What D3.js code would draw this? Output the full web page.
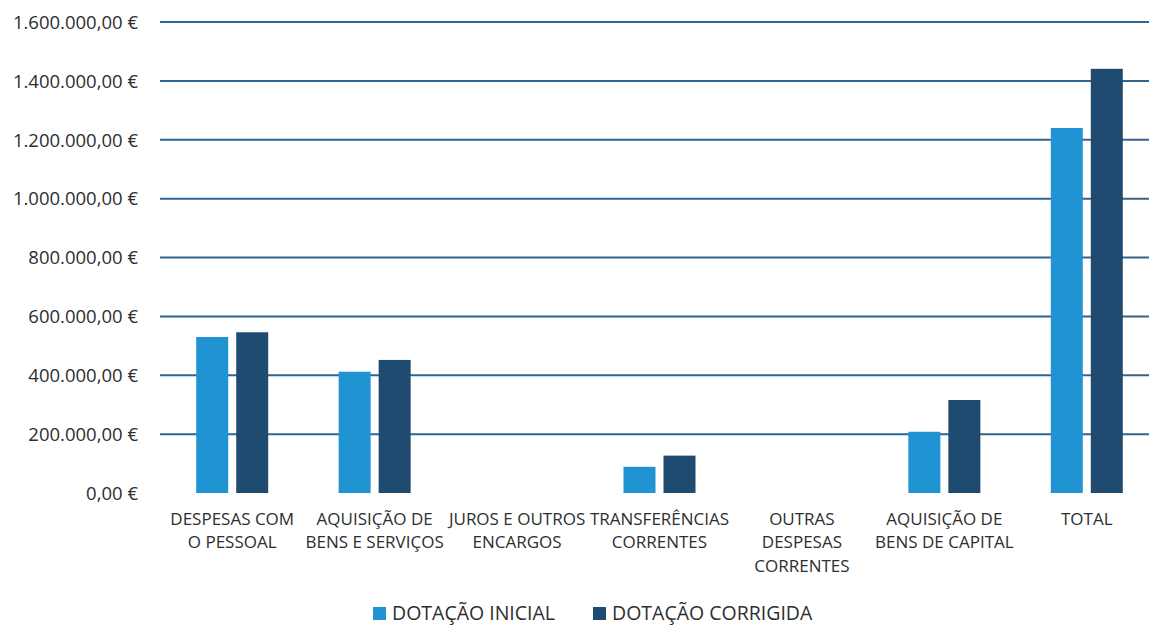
<!DOCTYPE html>
<html><head><meta charset="utf-8">
<script src="https://cdn.jsdelivr.net/npm/d3@7"></script>
<style>
html,body{margin:0;padding:0;background:#fff;}
svg{display:block;font-family:"Open Sans","Noto Sans",sans-serif;}
</style></head>
<body><svg id="c" width="1149" height="625"></svg>
<script>
const categories = [
  ["DESPESAS COM","O PESSOAL"],
  ["AQUISIÇÃO DE","BENS E SERVIÇOS"],
  ["JUROS E OUTROS","ENCARGOS"],
  ["TRANSFERÊNCIAS","CORRENTES"],
  ["OUTRAS","DESPESAS","CORRENTES"],
  ["AQUISIÇÃO DE","BENS DE CAPITAL"],
  ["TOTAL"]
];
const seriesNames = ["DOTAÇÃO INICIAL","DOTAÇÃO CORRIGIDA"];
const inicial   = [530000, 412000, 0, 89000, 0, 208000, 1240000];
const corrigida = [546000, 452000, 0, 127000, 0, 316000, 1441000];
const yTicks = [0,200000,400000,600000,800000,1000000,1200000,1400000,1600000];
const colors = ["#2094d2","#1f4b70"];

const svg = d3.select("#c");
const catKeys = categories.map((c,i)=>i);
const x0 = d3.scaleBand().domain(catKeys).range([161,1158]).paddingInner(0).paddingOuter(0);
const step = x0.bandwidth();
const x1 = d3.scaleBand().domain(seriesNames).range([(step-72)/2,(step+72)/2]).paddingInner(0.2);
const y = d3.scaleLinear().domain([0,1600000]).range([493,22]);

const fmt = v => d3.format(",.2f")(v).replace(/,/g,"#").replace(/\./g,",").replace(/#/g,".") + " €";

// axis labels
const yAxis = d3.axisLeft(y).tickValues(yTicks).tickFormat(fmt).tickSize(0).tickPadding(0);
const ga = svg.append("g").attr("transform","translate(138,0)").call(yAxis);
ga.select(".domain").remove();
ga.selectAll("text").attr("font-size","18.5px").attr("fill","#2e2e2e").attr("x",0).attr("dy","0.34em")
  .attr("font-family","'Open Sans','Noto Sans',sans-serif");
// gridlines
svg.append("g").selectAll("line").data(yTicks.filter(v=>v>0)).join("line")
  .attr("x1",160).attr("x2",1149).attr("y1",d=>y(d)).attr("y2",d=>y(d))
  .attr("stroke","#2f6590").attr("stroke-width",2);

// bars
const data = catKeys.map(i=>({i, vals:[inicial[i],corrigida[i]]}));
const groups = svg.append("g").selectAll("g").data(data).join("g")
  .attr("transform",d=>`translate(${x0(d.i)},0)`);
groups.selectAll("rect").data(d=>d.vals.map((v,k)=>({v,k}))).join("rect")
  .attr("x",d=>x1(seriesNames[d.k])).attr("width",x1.bandwidth())
  .attr("y",d=>y(d.v)).attr("height",d=>y(0)-y(d.v))
  .attr("fill",d=>colors[d.k]);

// x labels
const xl = svg.append("g").selectAll("text").data(data).join("text")
  .attr("x",d=>x0(d.i)+step/2).attr("y",525).attr("text-anchor","middle")
  .attr("font-size","17px").attr("fill","#2e2e2e");
xl.selectAll("tspan").data(d=>categories[d.i]).join("tspan")
  .attr("x",function(){return this.parentNode.getAttribute("x");})
  .attr("dy",(d,k)=>k===0?0:23.3).text(d=>d);

// legend
const lg = svg.append("g");
const legX = [373, 593];
seriesNames.forEach((s,k)=>{
  lg.append("rect").attr("x",legX[k]).attr("y",607).attr("width",13).attr("height",13).attr("fill",colors[k]);
  lg.append("text").attr("x",legX[k]+19).attr("y",620).attr("font-size","19.5px").attr("fill","#2e2e2e").text(s);
});
</script></body></html>
